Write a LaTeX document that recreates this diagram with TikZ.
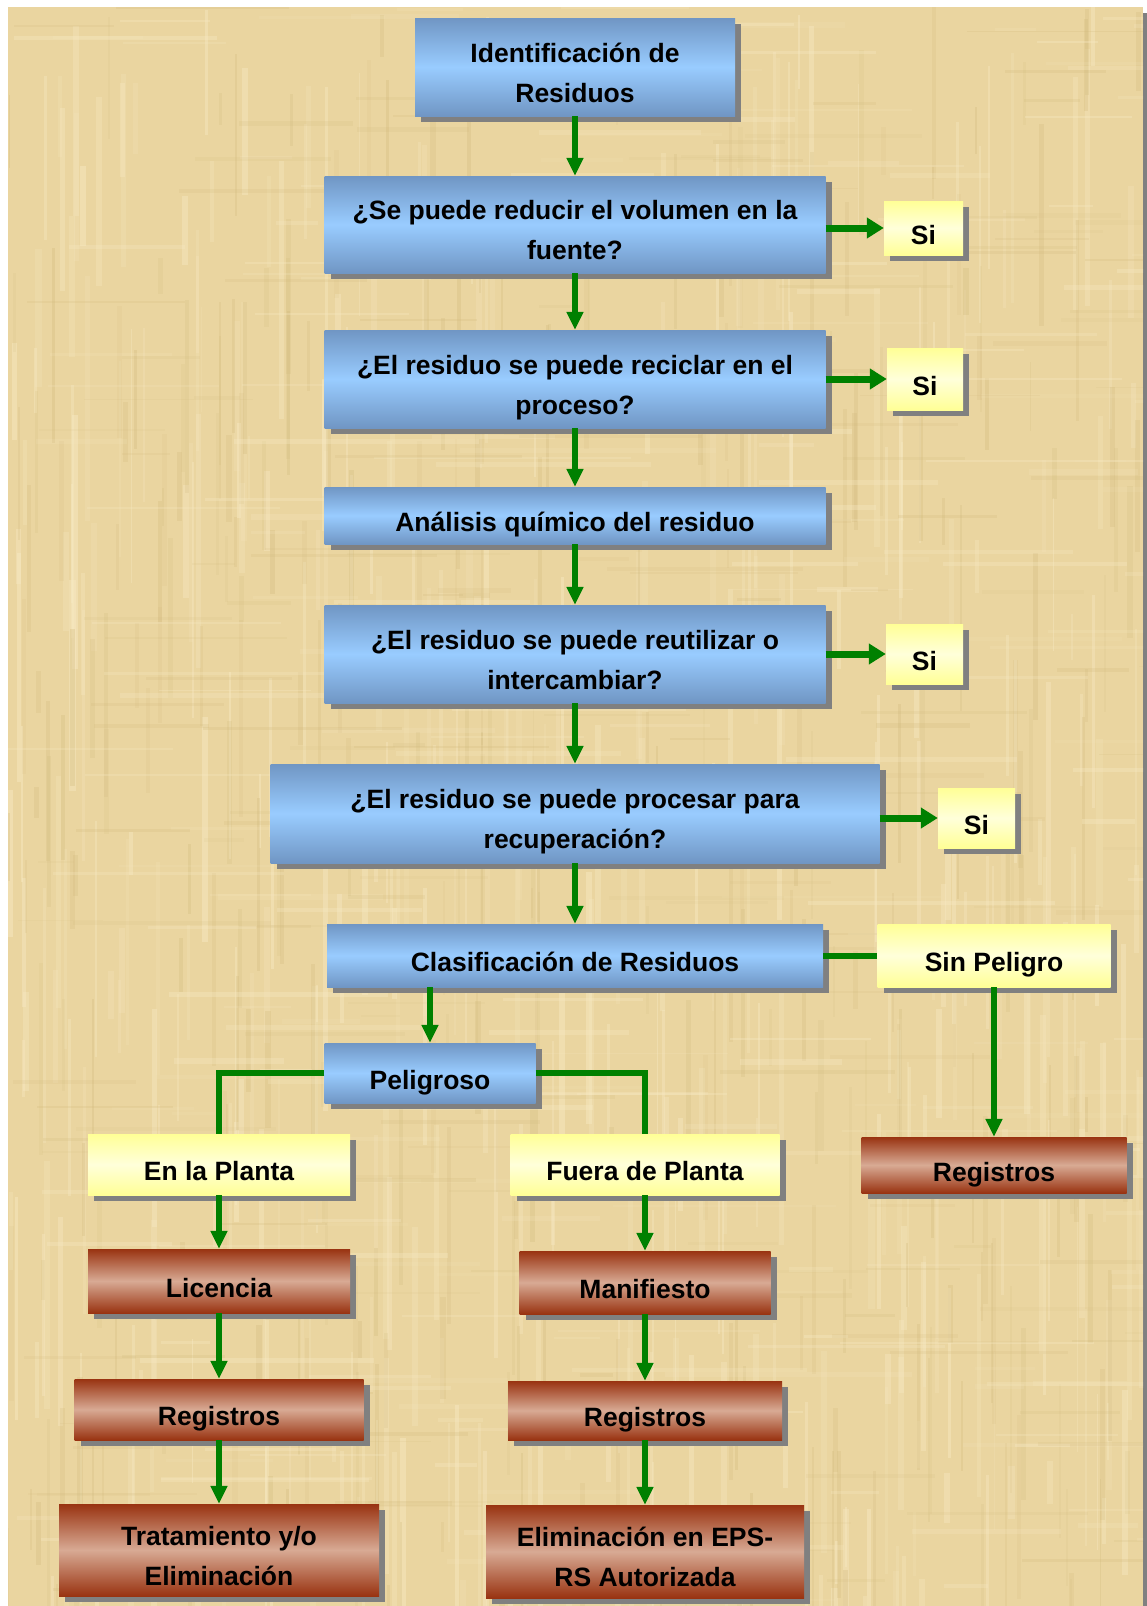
\documentclass[tikz,border=0pt]{standalone}
\usepackage{fontspec}
\setmainfont{Liberation Sans}
\usetikzlibrary{arrows.meta,shadows,calc}
\definecolor{bg}{RGB}{234,213,160}
\definecolor{texLight}{RGB}{248,234,196}
\definecolor{texDark}{RGB}{208,184,122}
\definecolor{blueEdge}{RGB}{112,150,196}
\definecolor{blueMid}{RGB}{153,204,255}
\definecolor{yelEdge}{RGB}{255,255,150}
\definecolor{yelMid}{RGB}{255,255,218}
\definecolor{brnEdge}{RGB}{153,51,17}
\definecolor{brnMid}{RGB}{216,170,148}
\definecolor{conn}{RGB}{0,128,0}
\definecolor{shadowgray}{RGB}{128,128,128}
\begin{document}
\begin{tikzpicture}[x=1pt,y=-1pt,
  box/.style={rectangle, inner sep=0pt, align=center,
    font=\fontsize{26.5}{40}\selectfont\bfseries, text=black,
    text height=32pt, text depth=0pt,
    drop shadow={shadow xshift=6pt, shadow yshift=-6pt, opacity=1, fill=shadowgray}},
  two/.style={text height=70pt, text depth=0pt},
  wh/.style 2 args={minimum width=#1pt, minimum height=#2pt},
  bluebox/.style={box, top color=blueEdge, bottom color=blueEdge, middle color=blueMid},
  yelbox/.style={box, top color=yelEdge, bottom color=yelEdge, middle color=yelMid},
  brnbox/.style={box, top color=brnEdge, bottom color=brnEdge, middle color=brnMid},
  flow/.style={draw=conn, line width=5.5pt, -{Triangle[length=18pt,width=16pt]}},
  siflow/.style={draw=conn, line width=7pt, -{Triangle[length=17pt,width=20pt]}},
  link/.style={draw=conn, line width=6pt},
]
\useasboundingbox (0,0) rectangle (1147,1606);
% background sheet
\fill[shadowgray] (13,13) rectangle (1148,1610);
\fill[bg] (8,7) rectangle (1143,1606);
\begin{scope}
\clip (8,7) rectangle (1143,1606);
\pgfmathsetseed{12}
\foreach \i in {1,...,420}{
  \pgfmathsetmacro\rx{rnd*1140}
  \pgfmathsetmacro\ry{rnd*1600}
  \pgfmathsetmacro\rw{1.5+rnd*5}
  \pgfmathsetmacro\rh{40+rnd*220}
  \pgfmathsetmacro\ro{0.15+rnd*0.3}
  \fill[texLight, opacity=\ro] (\rx,\ry) rectangle ++(\rw,\rh);
}
\foreach \i in {1,...,320}{
  \pgfmathsetmacro\rx{rnd*1140}
  \pgfmathsetmacro\ry{rnd*1600}
  \pgfmathsetmacro\rw{1.5+rnd*4}
  \pgfmathsetmacro\rh{30+rnd*180}
  \pgfmathsetmacro\ro{0.1+rnd*0.2}
  \fill[texDark, opacity=\ro] (\rx,\ry) rectangle ++(\rw,\rh);
}
\foreach \i in {1,...,260}{
  \pgfmathsetmacro\rx{rnd*1140}
  \pgfmathsetmacro\ry{rnd*1600}
  \pgfmathsetmacro\rw{40+rnd*220}
  \pgfmathsetmacro\rh{1.5+rnd*4}
  \pgfmathsetmacro\ro{0.1+rnd*0.25}
  \fill[texLight, opacity=\ro] (\rx,\ry) rectangle ++(\rw,\rh);
}
\foreach \i in {1,...,200}{
  \pgfmathsetmacro\rx{rnd*1140}
  \pgfmathsetmacro\ry{rnd*1600}
  \pgfmathsetmacro\rw{30+rnd*180}
  \pgfmathsetmacro\rh{1.5+rnd*3}
  \pgfmathsetmacro\ro{0.08+rnd*0.15}
  \fill[texDark, opacity=\ro] (\rx,\ry) rectangle ++(\rw,\rh);
}
\end{scope}

% main column
\node[bluebox, two, wh={320}{98}] (ident) at (575,67) {Identificación de\\Residuos};
\node[bluebox, two, wh={501}{97}] (reducir) at (575,224.5) {¿Se puede reducir el volumen en la\\fuente?};
\node[yelbox, wh={79}{54}] (si1) at (923.5,228) {Si};
\node[bluebox, two, wh={501}{98}] (reciclar) at (575,379) {¿El residuo se puede reciclar en el\\proceso?};
\node[yelbox, wh={76}{62}] (si2) at (925,379) {Si};
\node[bluebox, wh={501}{57}] (analisis) at (575,515.5) {Análisis químico del residuo};
\node[bluebox, two, wh={501}{98}] (reutil) at (575,654) {¿El residuo se puede reutilizar o\\intercambiar?};
\node[yelbox, wh={77}{60}] (si3) at (924.5,654) {Si};
\node[bluebox, two, wh={609}{99}] (procesar) at (575,813.5) {¿El residuo se puede procesar para\\recuperación?};
\node[yelbox, wh={77}{60}] (si4) at (976.5,818) {Si};
\node[bluebox, wh={496}{63}] (clasif) at (575,955.5) {Clasificación de Residuos};
\node[yelbox, wh={233}{63}] (sinpel) at (994,955.5) {Sin Peligro};
\node[bluebox, wh={211}{60}] (pelig) at (430,1073) {Peligroso};
% branches
\node[yelbox, wh={262}{61}] (enpl) at (219,1164.5) {En la Planta};
\node[yelbox, wh={269}{61}] (fuera) at (645,1164.5) {Fuera de Planta};
\node[brnbox, wh={265}{56}] (regR) at (994,1165) {Registros};
\node[brnbox, wh={262}{64}] (lic) at (219,1281) {Licencia};
\node[brnbox, wh={251}{63}] (manif) at (645,1282.5) {Manifiesto};
\node[brnbox, wh={289}{61}] (regL) at (219,1409.5) {Registros};
\node[brnbox, wh={274}{59}] (regM) at (645,1410.5) {Registros};
\node[brnbox, two, wh={320}{92}] (trat) at (219,1550) {Tratamiento y/o\\Eliminación};
\node[brnbox, two, wh={318}{93}] (elim) at (645,1551.5) {Eliminación en EPS-\\RS Autorizada};

% connectors
\draw[flow] (ident) -- (reducir);
\draw[flow] (reducir) -- (reciclar);
\draw[flow] (reciclar) -- (analisis);
\draw[flow] (analisis) -- (reutil);
\draw[flow] (reutil) -- (procesar);
\draw[flow] (procesar) -- (clasif);
\draw[siflow] (reducir.east |- si1) -- (si1.west);
\draw[siflow] (reciclar.east |- si2) -- (si2.west);
\draw[siflow] (reutil.east |- si3) -- (si3.west);
\draw[siflow] (procesar.east |- si4) -- (si4.west);
\draw[link] (clasif.east) -- (sinpel.west);
\draw[flow] (clasif.south -| pelig.north) -- (pelig.north);
\draw[flow] (sinpel) -- (regR);
\draw[link] (pelig.west) -| (enpl.north);
\draw[link] (pelig.east) -| (fuera.north);
\draw[flow] (enpl) -- (lic);
\draw[flow] (lic) -- (regL);
\draw[flow] (regL) -- (trat);
\draw[flow] (fuera) -- (manif);
\draw[flow] (manif) -- (regM);
\draw[flow] (regM) -- (elim);
\end{tikzpicture}
\end{document}
